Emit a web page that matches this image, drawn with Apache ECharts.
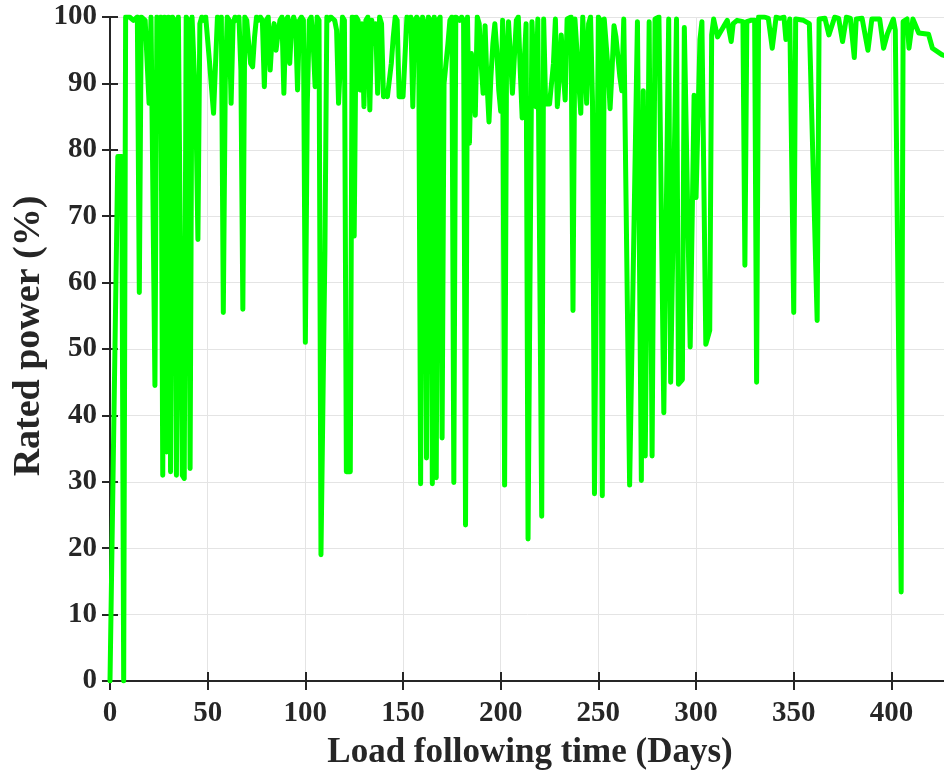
<!DOCTYPE html>
<html>
<head>
<meta charset="utf-8">
<title>Rated power</title>
<script src="https://cdn.jsdelivr.net/npm/echarts@6/dist/echarts.min.js"></script>
<style>
  html, body { margin: 0; padding: 0; background: #fff; }
  #main { width: 944px; height: 774px; }
</style>
</head>
<body>
<div id="main"></div>
<script>
// 负荷跟踪时间（天）与额定功率（%）
var days = [
    0, 4, 6, 7, 8, 10, 12, 14, 15, 16, 18, 20, 21, 22, 23, 24, 25, 26, 27, 28,
    29, 30, 31, 32, 33, 34, 35, 36, 37, 38, 39, 40, 41, 42, 43, 44, 45, 46, 47, 48,
    49, 51, 53, 55, 56, 57, 58, 59, 60, 61, 62, 63, 64, 65, 66, 67, 68, 69, 70, 71,
    72, 73, 74, 75, 76, 77, 78, 79, 80, 81, 82, 83, 84, 85, 86, 87, 88, 89, 90, 91,
    92, 93, 94, 95, 96, 97, 98, 99, 100, 101, 102, 103, 104, 105, 106, 107, 108, 110, 111, 112,
    113, 114, 115, 116, 117, 118, 119, 120, 121, 122, 123, 124, 125, 126, 127, 128, 129, 130, 131, 132,
    133, 134, 135, 136, 137, 138, 139, 140, 141, 142, 143, 144, 145, 146, 147, 148, 149, 150, 151, 152,
    153, 154, 155, 156, 157, 158, 159, 160, 161, 162, 163, 164, 165, 166, 167, 168, 169, 170, 171, 172,
    173, 174, 175, 176, 177, 178, 179, 180, 181, 182, 183, 184, 185, 186, 187, 188, 189, 190, 191, 192,
    193, 194, 195, 196, 197, 198, 199, 200, 201, 202, 203, 204, 205, 206, 207, 208, 209, 210, 211, 212,
    213, 214, 216, 217, 218, 219, 220, 221, 222, 223, 224, 225, 226, 227, 228, 229, 230, 231, 232, 233,
    234, 235, 236, 237, 238, 239, 240, 241, 242, 243, 244, 245, 246, 247, 248, 250, 251, 252, 253, 254,
    255, 256, 257, 258, 259, 260, 261, 262, 263, 264, 266, 270, 272, 273, 274, 276, 277.5, 279, 281, 283.5,
    286, 287, 290, 291, 293, 294, 297, 299, 300, 302, 303, 305, 307, 308, 309, 311, 313, 315, 316, 318,
    319, 321, 324, 325, 326, 328, 330, 331, 332, 335, 337, 339, 341, 343, 345, 346, 348, 350, 351, 355,
    358, 362, 363, 366, 368, 371, 373, 375, 377, 379, 381, 382, 385, 388, 390, 394, 396, 398, 401, 402,
    405, 406, 408, 409, 411, 414, 419, 421, 426, 430
];
var power = [
    0, 79, 79, 0, 100, 100, 99.5, 100, 58.5, 100, 99.5, 87, 100, 100, 44.5, 100, 99.5, 100, 31, 100,
    34.5, 100, 31.5, 100, 99.5, 31, 100, 100, 31, 30.5, 100, 99.5, 32, 100, 100, 85.5, 66.5, 99, 100, 99.5,
    100, 93, 85.5, 100, 99.5, 100, 55.5, 90, 100, 99.5, 87, 99, 100, 99.5, 100, 92, 56, 100, 99.5, 96,
    93, 92.5, 97, 100, 99.5, 100, 99.5, 89.5, 99.5, 100, 92, 97, 99, 95, 97.5, 99.5, 100, 88.5, 99.5, 100,
    93, 99, 100, 99, 89, 99.5, 100, 99.5, 51, 87, 99.5, 100, 96, 89.5, 100, 99.5, 19, 64.5, 100, 99.5,
    100, 100, 99.5, 98, 87, 87, 100, 99.5, 31.5, 31.5, 31.5, 100, 67, 100, 99.5, 89, 99, 86.5, 99.5, 100,
    86, 99.5, 96, 99, 88.5, 100, 99, 88, 88.5, 88, 88, 93, 97, 100, 99.5, 88, 88, 88, 88, 100,
    99.5, 100, 86.5, 99.5, 100, 99.5, 29.7, 100, 99, 33.6, 100, 99.5, 29.7, 100, 30.6, 99.5, 100, 36.6, 90, 93,
    96, 99.5, 100, 29.9, 100, 100, 99.5, 100, 99.5, 23.5, 100, 81, 94.5, 90, 85.2, 100, 99, 93, 88.5, 98.7,
    90, 84.2, 91, 96, 99, 95, 89, 85.8, 99.5, 29.5, 94, 99.3, 94, 88.5, 94, 99.5, 100, 92, 84.8, 92.9,
    99, 21.4, 99.3, 92, 86.5, 99.7, 100, 24.8, 99.7, 86.9, 86.9, 86.9, 87, 93, 99.7, 86.5, 91, 97.3, 92, 87.5,
    99.7, 99.5, 100, 55.8, 99.7, 95, 90, 85.5, 100, 94, 87, 99, 100, 87.2, 28.2, 100, 99.5, 27.9, 99.7, 99.5,
    92, 86.2, 92, 98.7, 97, 94, 91, 88.9, 99.7, 99.5, 29.5, 99.3, 30.2, 88.9, 33.9, 99.3, 33.9, 99.7, 100, 40.4,
    99.7, 45, 99.7, 44.7, 45.4, 98.4, 50.3, 88.2, 72.8, 96.6, 99.3, 50.7, 52.8, 97.3, 99.7, 97, 98, 99, 99.5, 96.3,
    99, 99.5, 99.3, 62.6, 99.3, 99.5, 99.5, 45, 100, 100, 99.8, 95.3, 100, 99.8, 100, 96.6, 99.7, 55.5, 99.7, 99.5,
    99, 54.3, 99.7, 99.8, 97.3, 100, 99.8, 96.3, 100, 99.8, 93.9, 99.7, 99.8, 95, 99.7, 99.7, 95.3, 97.5, 99.7, 98,
    13.4, 99.3, 99.7, 95.3, 99.7, 97.6, 97.4, 95.3, 94.3, 94
];
var xTicks = [0, 50, 100, 150, 200, 250, 300, 350, 400];

var seriesData = [];
for (var i = 0; i < days.length; i++) {
    seriesData.push([days[i], power[i]]);
}

var fontName = '"Liberation Serif", "Times New Roman", serif';
var axisColor = '#262626';

var myChart = echarts.init(document.getElementById('main'), null, { renderer: 'canvas' });
var option = {
    animation: false,
    backgroundColor: '#ffffff',
    grid: {
        left: 110,
        right: -6,
        top: 17,
        bottom: 93,
        containLabel: false,
        outerBoundsMode: 'none'
    },
    xAxis: [{
        type: 'value',
        min: 0,
        max: 430,
        interval: 50,
        position: 'bottom',
        name: 'Load following time (Days)',
        nameLocation: 'middle',
        nameGap: 54,
        nameMoveOverlap: false,
        nameTextStyle: {
            fontFamily: fontName,
            fontWeight: 'bold',
            fontSize: 35,
            color: axisColor
        },
        axisLine: { lineStyle: { color: axisColor, width: 2 } },
        axisTick: { inside: true, length: 9, lineStyle: { color: axisColor, width: 2 } },
        splitLine: { show: true, lineStyle: { color: '#e4e4e4', width: 1 } },
        axisLabel: {
            margin: 18,
            fontFamily: fontName,
            fontWeight: 'bold',
            fontSize: 29,
            color: axisColor,
            showMaxLabel: false,
            formatter: function (v) {
                // 只显示整50的刻度
                return xTicks.indexOf(v) >= 0 ? String(v) : '';
            }
        }
    }, {
        type: 'value',
        min: 0,
        max: 430,
        interval: 50,
        position: 'top',
        axisLine: { lineStyle: { color: axisColor, width: 2 } },
        axisTick: { inside: true, length: 9, lineStyle: { color: axisColor, width: 2 } },
        axisLabel: { show: false },
        splitLine: { show: false }
    }],
    yAxis: [{
        type: 'value',
        min: 0,
        max: 100,
        interval: 10,
        position: 'left',
        name: 'Rated power (%)',
        nameLocation: 'middle',
        nameGap: 62,
        nameMoveOverlap: false,
        nameTextStyle: {
            fontFamily: fontName,
            fontWeight: 'bold',
            fontSize: 38,
            color: axisColor,
            padding: [0, 0, 0, 26]
        },
        axisLine: { show: true, lineStyle: { color: axisColor, width: 2 } },
        axisTick: { show: true, inside: true, length: 8, lineStyle: { color: axisColor, width: 2 } },
        splitLine: { show: true, lineStyle: { color: '#e4e4e4', width: 1 } },
        axisLabel: {
            margin: 13,
            fontFamily: fontName,
            fontWeight: 'bold',
            fontSize: 29,
            color: axisColor
        }
    }, {
        type: 'value',
        min: 0,
        max: 100,
        interval: 10,
        position: 'right',
        axisLine: { show: true, lineStyle: { color: axisColor, width: 2 } },
        axisTick: { show: true, inside: true, length: 8, lineStyle: { color: axisColor, width: 2 } },
        axisLabel: { show: false },
        splitLine: { show: false }
    }],
    series: [{
        name: 'Rated power',
        type: 'line',
        xAxisIndex: 0,
        yAxisIndex: 0,
        data: seriesData,
        showSymbol: false,
        symbol: 'none',
        sampling: null,
        lineStyle: {
            color: '#00ff00',
            width: 5,
            cap: 'round',
            join: 'round'
        },
        z: 3
    }]
};
myChart.setOption(option);
</script>
</body>
</html>
